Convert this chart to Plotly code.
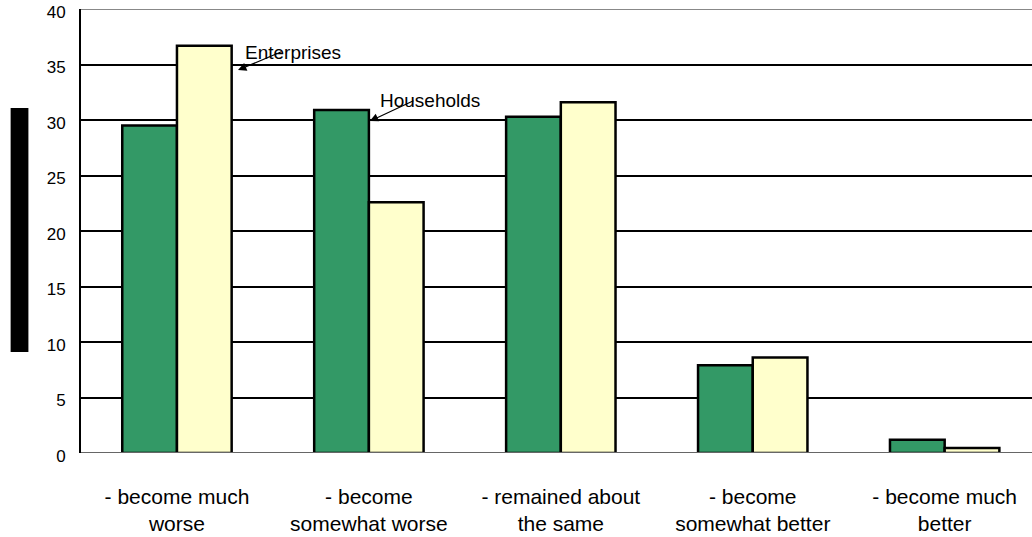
import plotly.graph_objects as go

categories = [
    "- become much<br>worse",
    "- become<br>somewhat worse",
    "- remained about<br>the same",
    "- become<br>somewhat better",
    "- become much<br>better",
]
households = [29.5, 30.9, 30.3, 7.9, 1.2]
enterprises = [36.7, 22.6, 31.6, 8.6, 0.45]

FONT = "Liberation Sans, Arial, sans-serif"

fig = go.Figure()
fig.add_trace(go.Bar(
    x=list(range(5)), y=households, name="Households",
    marker=dict(color="#339966", line=dict(color="black", width=2.5)),
))
fig.add_trace(go.Bar(
    x=list(range(5)), y=enterprises, name="Enterprises",
    marker=dict(color="#FFFFCC", line=dict(color="black", width=2.5)),
))

# grey frame lines at top and bottom
fig.add_shape(type="line", xref="paper", yref="y", x0=0, x1=1, y0=40, y1=40,
              line=dict(color="#888888", width=2))
fig.add_shape(type="line", xref="paper", yref="y", x0=0, x1=1, y0=0, y1=0,
              line=dict(color="#666666", width=2))
# dark strip left of the axis (scan artefact)
fig.add_shape(type="rect", xref="paper", yref="paper",
              x0=-0.074, x1=-0.0553, y0=0.2275, y1=0.777,
              fillcolor="black", line_width=0)

# series labels with arrows
fig.add_annotation(x=0.318, y=34.5, ax=0.552, ay=36.2, axref="x", ayref="y",
                   text="", showarrow=True, arrowhead=2, arrowsize=1.4,
                   arrowwidth=1.2, arrowcolor="black")
fig.add_annotation(x=0.344, y=36.1, text="Enterprises", showarrow=False,
                   xanchor="left", font=dict(size=19, color="black", family=FONT))
fig.add_annotation(x=1.005, y=29.9, ax=1.24, ay=31.8, axref="x", ayref="y",
                   text="", showarrow=True, arrowhead=2, arrowsize=1.4,
                   arrowwidth=1.2, arrowcolor="black")
fig.add_annotation(x=1.047, y=31.8, text="Households", showarrow=False,
                   xanchor="left", font=dict(size=19, color="black", family=FONT))

fig.update_layout(
    width=1032, height=537,
    margin=dict(l=81, r=0, t=9, b=84),
    plot_bgcolor="white", paper_bgcolor="white",
    barmode="group", bargap=0.43, bargroupgap=0,
    showlegend=False,
    font=dict(family=FONT, size=17, color="black"),
    xaxis=dict(
        range=[-0.5, 4.455], tickvals=list(range(5)), ticktext=categories,
        showgrid=False, zeroline=False, showline=False,
        ticks="", ticklabelstandoff=29, automargin=False,
        tickfont=dict(size=21),
    ),
    yaxis=dict(
        range=[0, 40], tickvals=list(range(0, 41, 5)),
        showgrid=True, gridcolor="black", gridwidth=2,
        zeroline=False, showline=True, linecolor="black", linewidth=2,
        ticks="", ticklabelstandoff=10, ticklabelshift=3,
        ticklabeloverflow="allow", automargin=False,
        tickfont=dict(size=17),
    ),
)

# drop the default page margin so the figure sits at the window's corner
fig.write_html("out.html", config={"displayModeBar": False},
               post_script="document.body.style.margin='0';")
